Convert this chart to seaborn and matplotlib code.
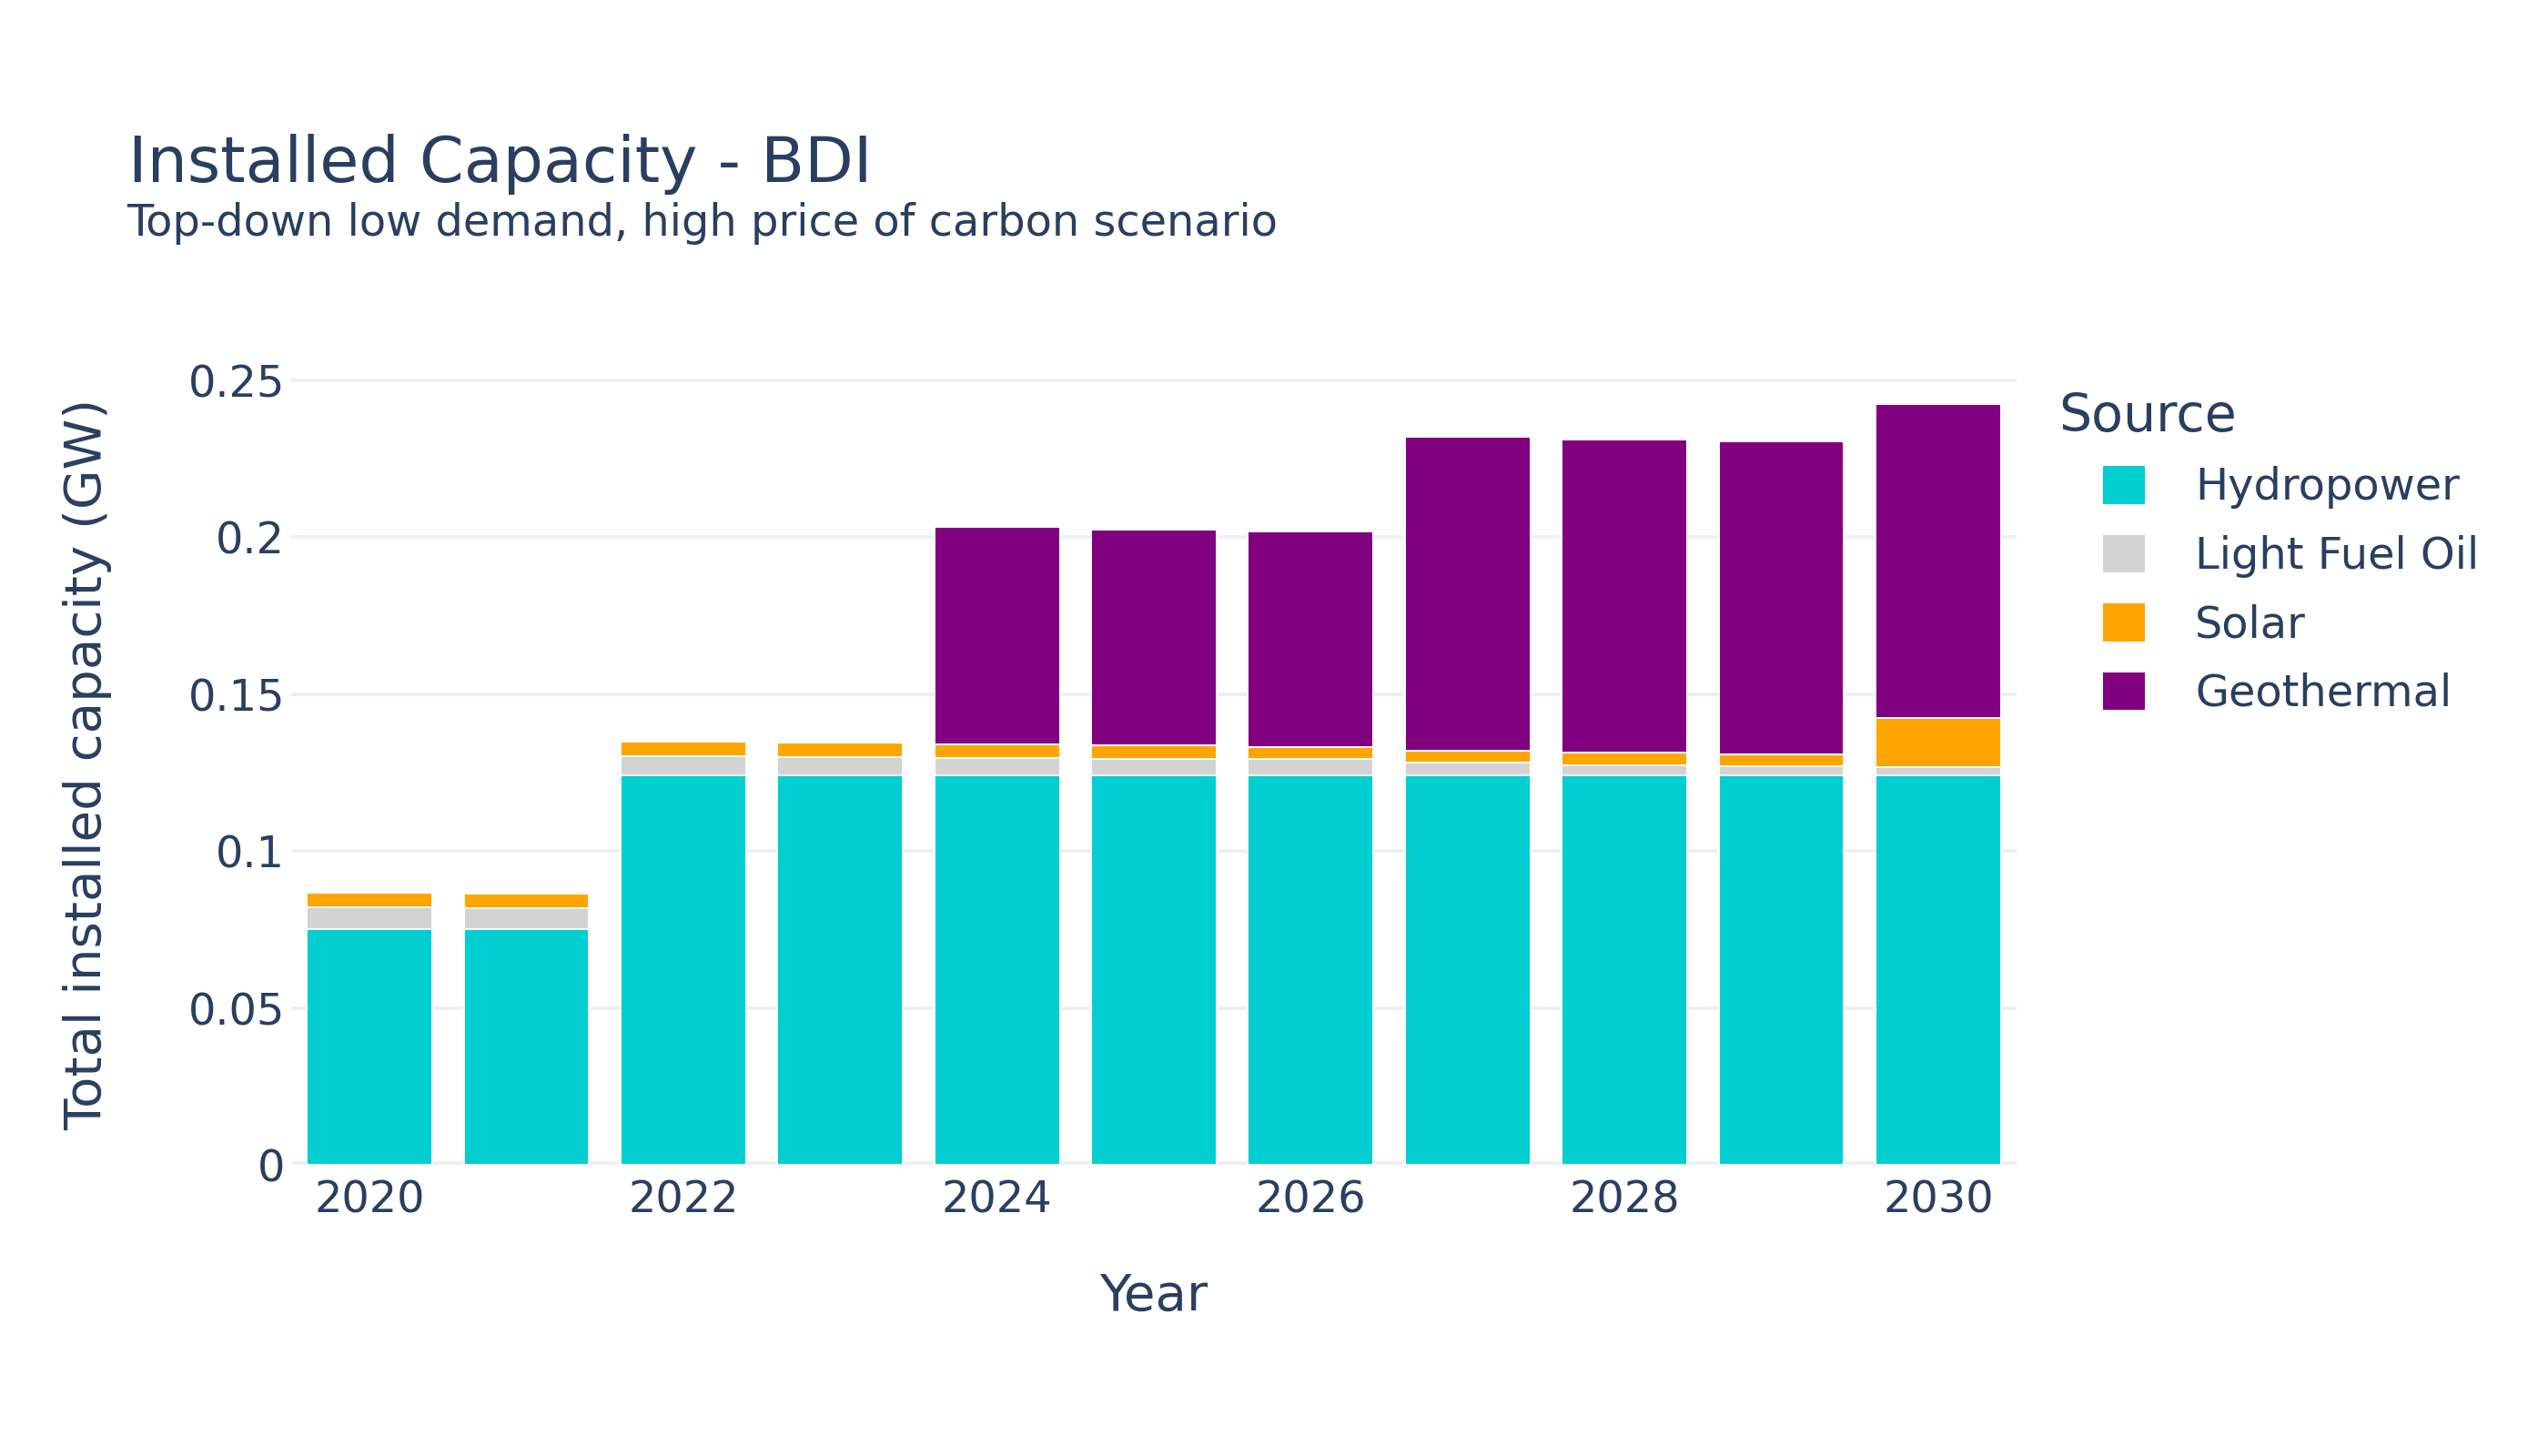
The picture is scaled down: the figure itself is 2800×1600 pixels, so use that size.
import matplotlib
matplotlib.use("Agg")
import matplotlib.pyplot as plt
from matplotlib.patches import Patch
import seaborn as sns
import pandas as pd

years = [2020, 2021, 2022, 2023, 2024, 2025, 2026, 2027, 2028, 2029, 2030]
sources = ["Hydropower", "Light Fuel Oil", "Solar", "Geothermal"]
hydropower = [0.075, 0.075, 0.124, 0.124, 0.124, 0.124, 0.124, 0.124, 0.124, 0.124, 0.124]
light_fuel_oil = [0.0070, 0.0067, 0.0063, 0.0060, 0.0057, 0.0054, 0.0053, 0.0041, 0.0034, 0.0031, 0.0027]
solar = [0.0048, 0.0046, 0.0046, 0.0045, 0.0042, 0.0042, 0.0038, 0.0038, 0.0038, 0.0036, 0.0155]
geothermal = [0.0, 0.0, 0.0, 0.0, 0.0693, 0.0687, 0.0687, 0.1000, 0.0999, 0.0998, 0.1001]
colors = ["#00CED1", "#D3D3D3", "#FFA500", "#800080"]
yticks = [0, 0.05, 0.1, 0.15, 0.2, 0.25]
ytick_labels = ["0", "0.05", "0.1", "0.15", "0.2", "0.25"]
xticks = [2020, 2022, 2024, 2026, 2028, 2030]

series = [hydropower, light_fuel_oil, solar, geothermal]
df = pd.DataFrame({
    "Year": years * len(sources),
    "Source": [s for s in sources for _ in years],
    "Value": [v for ser in series for v in ser],
})

sns.set_theme(style="white")
plt.rcParams["font.family"] = ["DejaVu Sans"]
text_color = "#2a3f5f"
grid_color = "#EBF0F8"

W, H = 2800, 1600
fig = plt.figure(figsize=(28, 16), dpi=100)
ax = fig.add_axes([320 / W, 1 - 1280 / H, (2216 - 320) / W, (1280 - 400) / H])

# seaborn stacks the first hue level on top, so pass the reversed order
sns.histplot(
    data=df, x="Year", weights="Value", hue="Source",
    hue_order=sources[::-1], palette=colors[::-1],
    multiple="stack", discrete=True, shrink=0.8,
    element="bars", alpha=1, edgecolor="white", linewidth=1.4,
    legend=False, ax=ax,
)

ax.set_xlim(2019.5, 2030.5)
ax.set_ylim(0, 0.2551)
ax.set_yticks(yticks)
ax.set_yticklabels(ytick_labels)
ax.set_xticks(xticks)
ax.set_xticklabels([str(x) for x in xticks])
for s in ax.spines.values():
    s.set_visible(False)
ax.set_axisbelow(True)
ax.yaxis.grid(True, color=grid_color, linewidth=2.7)
ax.xaxis.grid(False)
ax.axhline(0, color=grid_color, linewidth=5.8, zorder=0.5)
ax.tick_params(axis="both", length=0, labelsize=34.5, colors=text_color)
ax.tick_params(axis="y", pad=5)
ax.tick_params(axis="x", pad=11)
ax.set_xlabel("")
ax.set_ylabel("")

fig.text(1268 / W, 1 - 1440 / H, "Year", fontsize=40.5, color=text_color,
         ha="center", va="baseline")
fig.text(111 / W, 1 - 840 / H, "Total installed capacity (GW)", fontsize=40.5,
         color=text_color, ha="center", va="baseline", rotation=90,
         rotation_mode="anchor")

fig.text(141 / W, 1 - 200 / H, "Installed Capacity - BDI", fontsize=50.3,
         color=text_color, va="baseline", ha="left")
fig.text(139 / W, 1 - 259 / H, "Top-down low demand, high price of carbon scenario",
         fontsize=34.5, color=text_color, va="baseline", ha="left")

fig.text(2262 / W, 1 - 474 / H, "Source", fontsize=41, color=text_color,
         va="baseline", ha="left")
handles = [Patch(facecolor=c, edgecolor="none", label=s) for s, c in zip(sources, colors)]
leg = fig.legend(
    handles=handles, loc="upper left",
    bbox_to_anchor=(2311 / W, 1 - 512 / H), frameon=False,
    fontsize=34.5, handlelength=0.96, handleheight=0.96,
    handletextpad=1.15, labelspacing=0.59, borderaxespad=0, borderpad=0,
)
for t in leg.get_texts():
    t.set_color(text_color)

fig.savefig("out.png", dpi=100, facecolor="white")
